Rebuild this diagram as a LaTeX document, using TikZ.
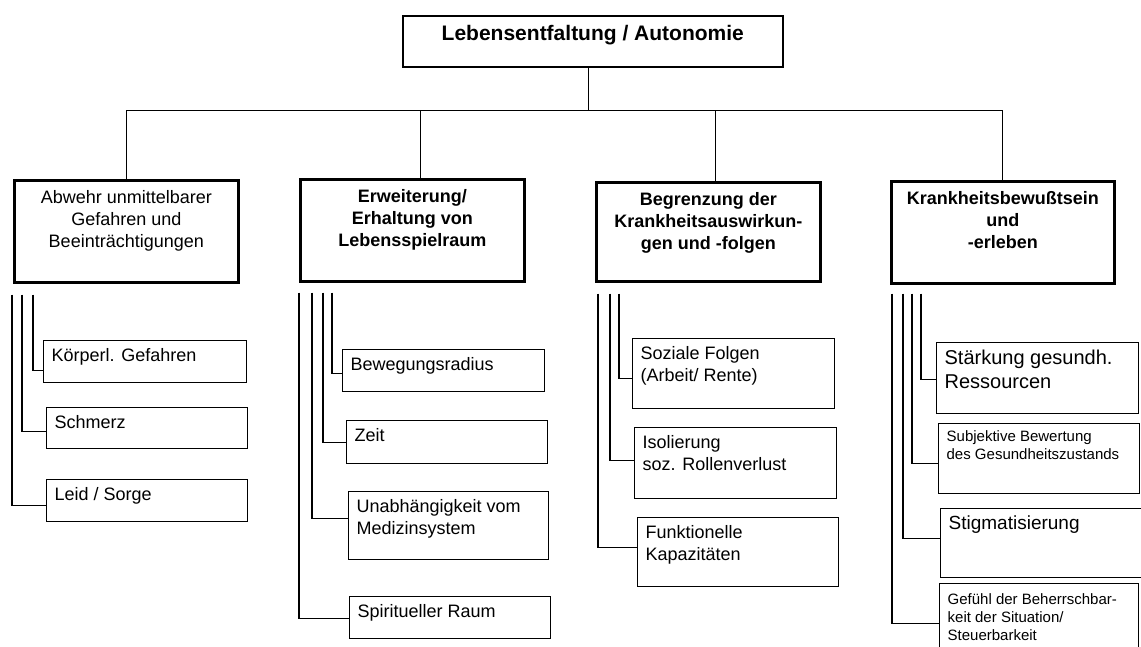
\documentclass[tikz,border=0pt]{standalone}
\usepackage{fontspec}
\setmainfont{Liberation Sans}
\usetikzlibrary{positioning}

\newcommand{\cbox}[3]{\parbox[t][#2][t]{#1}{\centering\strut #3}}
\newcommand{\lbox}[3]{\parbox[t][#2][t]{#1}{\raggedright\strut #3}}

\begin{document}
\begin{tikzpicture}[x=1pt,y=-1pt,
    root/.style={draw,line width=1.6pt,anchor=north west,inner xsep=8pt,inner ysep=7pt,
                 font=\fontsize{21}{25}\selectfont\bfseries},
    head/.style={draw,line width=2.6pt,anchor=north west,inner xsep=8pt,inner ysep=8pt,
                 font=\fontsize{18}{22}\selectfont},
    leaf/.style={draw,line width=1.3pt,anchor=north west,inner xsep=8pt,inner ysep=5pt,
                 font=\fontsize{18}{22}\selectfont},
    small/.style={font=\fontsize{15}{18}\selectfont},
    link/.style={line width=1.1pt}]
    \useasboundingbox (0,0) rectangle (1141,646);

    % top
    \node[root] (root) at (402,15) {\cbox{364pt}{37pt}{Lebensentfaltung / Autonomie}};

    % first level
    \node[head] (abw) at (13,179) {\cbox{208pt}{86pt}{Abwehr unmittelbarer\\Gefahren und\\Beeinträchtigungen}};
    \node[head,font=\fontsize{18}{22}\selectfont\bfseries] (erw) at (299,178) {\cbox{208pt}{86pt}{Erweiterung/\\Erhaltung von\\Lebensspielraum}};
    \node[head,font=\fontsize{18}{22}\selectfont\bfseries] (beg) at (595,181) {\cbox{208pt}{83pt}{Begrenzung der\\Krankheitsauswirkun-\\gen und -folgen}};
    \node[head,font=\fontsize{18}{22}\selectfont\bfseries] (krb) at (890,180) {\cbox{207pt}{86pt}{Krankheitsbewußtsein\\und\\-erleben}};

    \draw[link] ([xshift=-4pt]root.south) -- ++(0,43) coordinate (bus);
    \draw[link] (abw.north) |- (bus) -| (krb.north);
    \draw[link] ([xshift=8pt]erw.north) -- ([xshift=8pt]erw.north |- bus);
    \draw[link] ([xshift=7pt]beg.north) -- ([xshift=7pt]beg.north |- bus);

    % Abwehr
    \node[leaf] (koe) at (43,340) {\lbox{187pt}{32pt}{Körperl. Gefahren}};
    \node[leaf] (schm) at (46,407) {\lbox{185pt}{31pt}{Schmerz}};
    \node[leaf] (leid) at (46,479) {\lbox{185pt}{32pt}{Leid / Sorge}};
    \foreach \dx/\dy/\kid in {20/-9/koe,9/-3/schm,-1/-5/leid}
        \draw[link] ([xshift=\dx pt,yshift=-11pt]abw.south west) |- ([yshift=\dy pt]\kid.west);

    % Erweiterung
    \node[leaf] (bew) at (342,349) {\lbox{186pt}{32pt}{Bewegungsradius}};
    \node[leaf] (zeit) at (346,420) {\lbox{185pt}{33pt}{Zeit}};
    \node[leaf] (unab) at (348,491) {\lbox{184pt}{58pt}{Unabhängigkeit vom\\Medizinsystem}};
    \node[leaf] (spir) at (349,596) {\lbox{185pt}{32pt}{Spiritueller Raum}};
    \foreach \dx/\dy/\kid in {33/-3/bew,24/0/zeit,13/7/unab,0/-1/spir}
        \draw[link] ([xshift=\dx pt,yshift=-10pt]erw.south west) |- ([yshift=\dy pt]\kid.west);

    % Begrenzung
    \node[leaf] (soz) at (632,338) {\lbox{186pt}{60pt}{Soziale Folgen\\(Arbeit/ Rente)}};
    \node[leaf] (iso) at (634,427) {\lbox{186pt}{61pt}{Isolierung\\soz. Rollenverlust}};
    \node[leaf] (funk) at (637,517) {\lbox{185pt}{59pt}{Funktionelle\\Kapazitäten}};
    \foreach \dx/\dy/\kid in {24/-5/soz,15/3/iso,3/5/funk}
        \draw[link] ([xshift=\dx pt,yshift=-11pt]beg.south west) |- ([yshift=\dy pt]\kid.west);

    % Krankheitsbewusstsein
    \node[leaf,font=\fontsize{20}{24}\selectfont] (staerk) at (936,342) {\lbox{186pt}{61pt}{Stärkung gesundh.\\Ressourcen}};
    \node[leaf,small] (subj) at (938,423) {\lbox{185pt}{60pt}{Subjektive Bewertung\\des Gesundheitszustands}};
    \node[leaf,font=\fontsize{19}{23}\selectfont] (stig) at (940,508) {\lbox{194pt}{59pt}{Stigmatisierung}};
    \node[leaf,small,inner ysep=8pt] (gef) at (939,583) {\lbox{183pt}{64pt}{Gefühl der Beherrschbar-\\keit der Situation/\\Steuerbarkeit}};
    \foreach \dx/\dy/\kid in {31/-1/staerk,22/-5/subj,13/5/stig,2/0/gef}
        \draw[link] ([xshift=\dx pt,yshift=-9pt]krb.south west) |- ([yshift=\dy pt]\kid.west);
\end{tikzpicture}
\end{document}
